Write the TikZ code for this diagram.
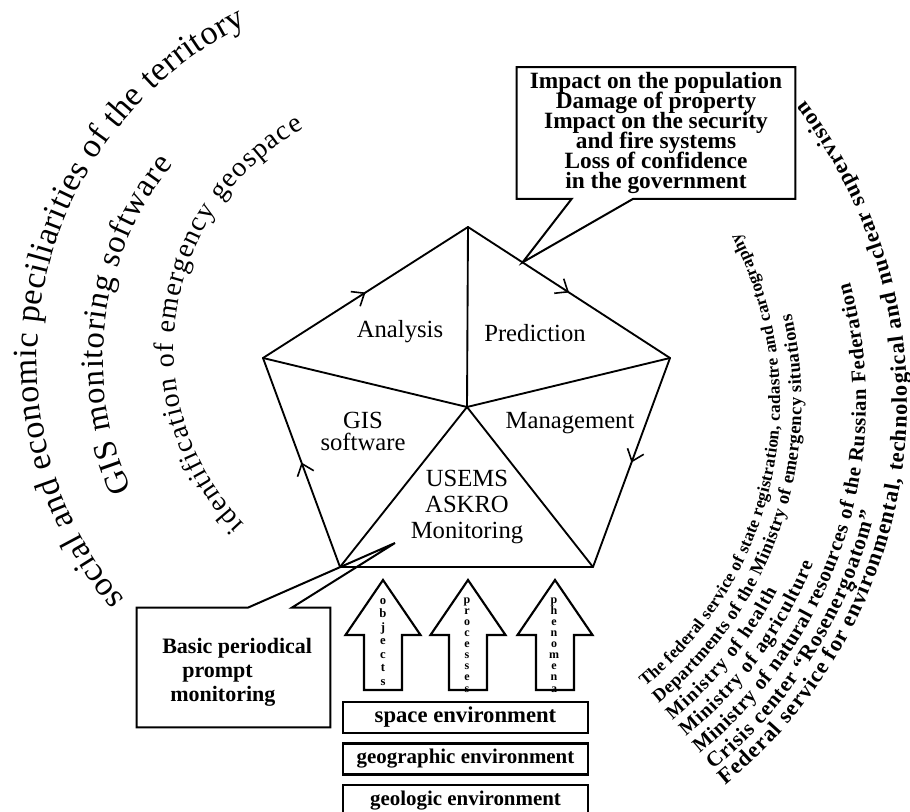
\documentclass[tikz,border=0pt]{standalone}
\usepackage{fontspec}
\setmainfont{Liberation Serif}
\usetikzlibrary{calc,arrows.meta,decorations.markings,decorations.text}

\newcommand\plainarc[1]{\fontsize{#1}{#1}\selectfont}
\newcommand\boldarc[1]{\fontsize{#1}{#1}\selectfont\bfseries}
\newcommand\tightlines{\lineskiplimit -20pt\relax}

\tikzset{
  side/.style={line width=1.4pt, line cap=round},
  flow/.style={side, postaction={decorate}, decoration={markings,
      mark=at position 0.5 with {\arrow{Straight Barb[length=8pt,width=13pt,line width=1.2pt]}}}},
  part/.style={font=\fontsize{18.5}{16.5}\selectfont, align=center},
  call/.style={line width=1.5pt, line join=miter},
  bigarrow/.style={line width=1.6pt, line join=miter},
  letters/.style={align=center, inner sep=0pt},
  envbox/.style={draw, line width=2.2pt, minimum width=183.75pt, minimum height=23.25pt, inner sep=0pt},
  arctext/.style={decorate, decoration={text along path, text align={fit to path}, text={#1}}},
}

\begin{document}
\begin{tikzpicture}[x=0.75pt, y=-0.75pt]
\useasboundingbox (0,0) rectangle (910,812);

% 五边形的顶点和中心
\coordinate (T) at (468,227);
\coordinate (L) at (263,358);
\coordinate (R) at (670,358);
\coordinate (BL) at (340,567);
\coordinate (BR) at (593,567);
\coordinate (C) at (467,407);
\draw[flow] (BL) -- (L);     %边上带箭头
\draw[flow] (L) -- (T);
\draw[flow] (T) -- (R);
\draw[flow] (R) -- (BR);
\draw[side] (BR) -- (BL);
\foreach \v in {T,L,R,BL,BR} \draw[side] (C) -- (\v);     %中心到各顶点

\node[part] (analysis) at (400,332) {Analysis};
\node[part] (prediction) at (535,333) {Prediction};
\node[part] (gis) at (363,431) {GIS\\software};
\node[part] (management) at (570,423) {Management};
\node[part, font=\fontsize{18.5}{19.5}\selectfont] (usems) at (467,507) {USEMS\\ASKRO\\Monitoring};

% 上方说明框
\coordinate (tipA) at ($(T)!0.27!(R)$);
\node[minimum width=208.5pt, minimum height=98.25pt, inner sep=0pt, align=center,
  font=\fontsize{17.5}{15}\selectfont\bfseries\tightlines] (impact) at (656,133)
  {Impact on the population\\Damage of property\\Impact on the security\\and fire systems\\Loss of confidence\\in the government};
\draw[call] (impact.south west) -- (impact.north west) -- (impact.north east) -- (impact.south east)
  -- ([xshift=-121.5pt]impact.south east) -- (tipA) -- ([xshift=41.25pt]impact.south west) -- cycle;

% 左下说明框
\coordinate (tipB) at (395,543);
\node[minimum width=144.75pt, minimum height=89.25pt, inner sep=0pt] (basicbox) at (233.5,667.5) {};
\node[anchor=west, align=left, inner sep=0pt, font=\fontsize{16.5}{18}\selectfont\bfseries] (basic) at (162,672)
  {Basic periodical\\\hspace{15pt}prompt\\\hspace{6pt}monitoring};
\draw[call] (basicbox.south west) -- (basicbox.north west) -- ([xshift=83.25pt]basicbox.north west) -- (tipB)
  -- ([xshift=116.25pt]basicbox.north west) -- (basicbox.north east) -- (basicbox.south east) -- cycle;

% 三个向上的大箭头
\foreach \x in {383,468,555}
  \draw[bigarrow] (\x,580) -- ++(37.5,55) -- ++(-18.5,0) -- ++(0,55) -- ++(-38,0) -- ++(0,-55) -- ++(-18.5,0) -- cycle;
\node[letters, font=\fontsize{9.5}{10.1}\selectfont\bfseries\tightlines] (objects) at (383,642) {o\\b\\j\\e\\c\\t\\s};
\node[letters, font=\fontsize{9}{8.3}\selectfont\bfseries\tightlines] (processes) at (467,645) {p\\r\\o\\c\\e\\s\\s\\e\\s};
\node[letters, font=\fontsize{9}{8.3}\selectfont\bfseries\tightlines] (phenomena) at (554,645) {p\\h\\e\\n\\o\\m\\e\\n\\a};

% 底部的三层环境
\node[envbox, font=\fontsize{17}{17}\selectfont\bfseries] (space) at (465.5,717.5) {space environment};
\node[envbox, font=\fontsize{15.7}{16}\selectfont\bfseries] (geographic) at (465.5,759) {geographic environment};
\node[envbox, font=\fontsize{15.7}{16}\selectfont\bfseries] (geologic) at (465.5,800.5) {geologic environment};

% 左侧弧形文字
\path[arctext={|\plainarc{25.5}|social and economic peciliarities of the territory}]
  (410,360) ++(140:373) arc[start angle=140, end angle=244, radius=373];
\path[arctext={|\plainarc{24.5}|GIS monitoring software}]
  (410,360) ++(155:307) arc[start angle=155, end angle=219.5, radius=307];
\path[arctext={|\plainarc{21}|identification of emergency geospace}]
  (426,349) ++(136:252) arc[start angle=136, end angle=241, radius=252];

% 右侧弧形文字 (同心圆弧)
\coordinate (O) at (412,402);
\path[arctext={|\boldarc{12.9}|The federal service of state registration, cadastre and cartography}]
  (O) ++(50.7:368) arc[start angle=50.7, end angle=-27.2, radius=368];
\path[arctext={|\boldarc{13.8}|Departments of the Ministry of emergency situations}]
  (O) ++(50.7:389.5) arc[start angle=50.7, end angle=-13, radius=389.5];
\path[arctext={|\boldarc{14.5}|Ministry of health}]
  (O) ++(50.7:411) arc[start angle=50.7, end angle=27.3, radius=411];
\path[arctext={|\boldarc{15}|Ministry of agriculture}]
  (O) ++(50.7:432.5) arc[start angle=50.7, end angle=21.9, radius=432.5];
\path[arctext={|\boldarc{15.5}|Ministry of natural resources of the Russian Federation}]
  (O) ++(50.7:454) arc[start angle=50.7, end angle=-15.2, radius=454];
\path[arctext={|\boldarc{16}|Crisis center “Rosenergoatom”}]
  (O) ++(50.7:475.5) arc[start angle=50.7, end angle=13.4, radius=475.5];
\path[arctext={|\boldarc{16.8}|Federal service for environmental, technological and nuclear supervision}]
  (O) ++(50.7:495) arc[start angle=50.7, end angle=-37.3, radius=495];
\end{tikzpicture}
\end{document}
